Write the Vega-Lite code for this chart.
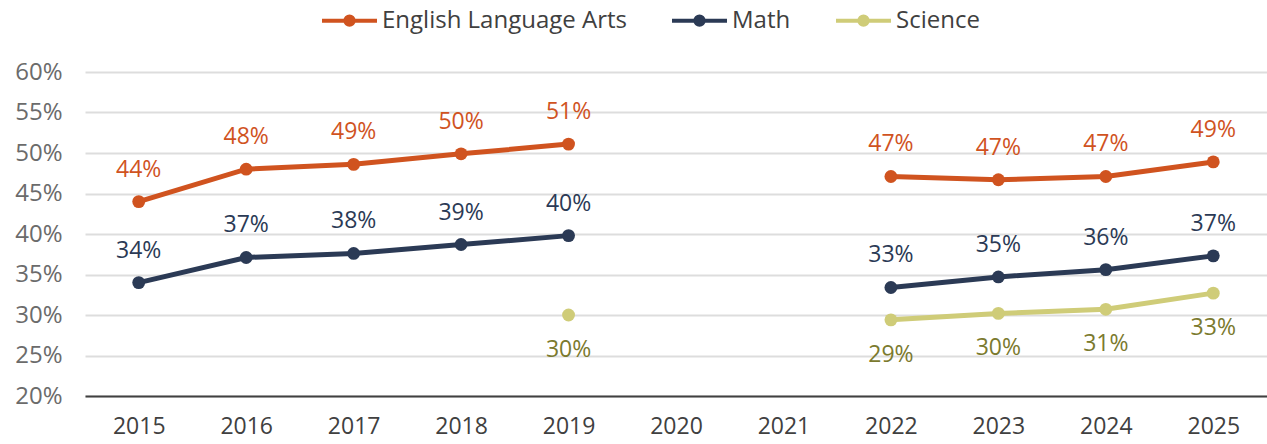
{
  "$schema": "https://vega.github.io/schema/vega-lite/v6.json",
  "autosize": "none",
  "width": 1182,
  "height": 324,
  "padding": {"left": 85, "top": 72, "right": 0, "bottom": 48},
  "background": "white",
  "config": {
    "view": {"stroke": null},
    "font": "Open Sans"
  },
  "data": {
    "values": [
      {"year": "2015", "subject": "English Language Arts", "v": 0.440},
      {"year": "2016", "subject": "English Language Arts", "v": 0.480},
      {"year": "2017", "subject": "English Language Arts", "v": 0.486},
      {"year": "2018", "subject": "English Language Arts", "v": 0.499},
      {"year": "2019", "subject": "English Language Arts", "v": 0.511},
      {"year": "2020", "subject": "English Language Arts", "v": null},
      {"year": "2021", "subject": "English Language Arts", "v": null},
      {"year": "2022", "subject": "English Language Arts", "v": 0.471},
      {"year": "2023", "subject": "English Language Arts", "v": 0.467},
      {"year": "2024", "subject": "English Language Arts", "v": 0.471},
      {"year": "2025", "subject": "English Language Arts", "v": 0.489},
      {"year": "2015", "subject": "Math", "v": 0.340},
      {"year": "2016", "subject": "Math", "v": 0.371},
      {"year": "2017", "subject": "Math", "v": 0.376},
      {"year": "2018", "subject": "Math", "v": 0.387},
      {"year": "2019", "subject": "Math", "v": 0.398},
      {"year": "2020", "subject": "Math", "v": null},
      {"year": "2021", "subject": "Math", "v": null},
      {"year": "2022", "subject": "Math", "v": 0.334},
      {"year": "2023", "subject": "Math", "v": 0.347},
      {"year": "2024", "subject": "Math", "v": 0.356},
      {"year": "2025", "subject": "Math", "v": 0.373},
      {"year": "2019", "subject": "Science", "v": 0.300},
      {"year": "2020", "subject": "Science", "v": null},
      {"year": "2021", "subject": "Science", "v": null},
      {"year": "2022", "subject": "Science", "v": 0.294},
      {"year": "2023", "subject": "Science", "v": 0.302},
      {"year": "2024", "subject": "Science", "v": 0.307},
      {"year": "2025", "subject": "Science", "v": 0.327}
    ]
  },
  "encoding": {
    "x": {
      "field": "year",
      "type": "ordinal",
      "sort": null,
      "scale": {"type": "point", "padding": 0.5, "domain": ["2015","2016","2017","2018","2019","2020","2021","2022","2023","2024","2025"]},
      "axis": {
        "title": null,
        "labelAngle": 0,
        "ticks": false,
        "grid": false,
        "domain": true,
        "domainColor": "#404040",
        "domainWidth": 2,
        "labelFontSize": 23,
        "labelColor": "#404040",
        "labelPadding": 19
      }
    },
    "y": {
      "field": "v",
      "type": "quantitative",
      "scale": {"domain": [0.2, 0.6], "nice": false, "zero": false},
      "axis": {
        "title": null,
        "values": [0.2, 0.25, 0.3, 0.35, 0.4, 0.45, 0.5, 0.55, 0.6],
        "format": ".0%",
        "domain": false,
        "ticks": false,
        "grid": true,
        "gridColor": "#dddddd",
        "gridWidth": 2,
        "labelFontSize": 24,
        "labelColor": "#6b6b6b",
        "labelPadding": 23
      }
    }
  },
  "layer": [
    {
      "mark": {"type": "line", "strokeWidth": 5},
      "encoding": {
        "color": {
          "field": "subject",
          "type": "nominal",
          "scale": {"domain": ["English Language Arts", "Math", "Science"], "range": ["#d0531f", "#2b3a55", "#cfcc78"]},
          "legend": {
            "title": null,
            "orient": "none",
            "direction": "horizontal",
            "legendX": 235,
            "legendY": -81,
            "symbolType": "M-1,0H1M-0.15,0A0.15,0.15,0,1,1,0.15,0A0.15,0.15,0,1,1,-0.15,0Z",
            "symbolSize": 3025,
            "symbolStrokeWidth": 4,
            "labelFontSize": 24,
            "labelLimit": 500,
            "labelColor": "#404040",
            "labelOffset": 3,
            "columnPadding": 37,
            "encode": {
              "symbols": {
                "update": {
                  "fill": {"scale": "color", "field": "value"},
                  "stroke": {"scale": "color", "field": "value"},
                  "fillOpacity": {"value": 1},
                  "opacity": {"value": 1}
                }
              }
            }
          }
        }
      }
    },
    {
      "transform": [{"filter": "datum.v != null"}],
      "mark": {"type": "point", "filled": true, "size": 165, "opacity": 1},
      "encoding": {
        "color": {"field": "subject", "type": "nominal", "legend": null}
      }
    },
    {
      "transform": [{"filter": "datum.v != null && datum.subject != 'Science'"}],
      "mark": {"type": "text", "dy": -32, "fontSize": 23},
      "encoding": {
        "text": {"field": "v", "type": "quantitative", "format": ".0%"},
        "color": {"field": "subject", "type": "nominal", "legend": null}
      }
    },
    {
      "transform": [{"filter": "datum.v != null && datum.subject == 'Science'"}],
      "mark": {"type": "text", "dy": 35, "fontSize": 23, "color": "#7b7a2e"},
      "encoding": {
        "text": {"field": "v", "type": "quantitative", "format": ".0%"}
      }
    }
  ]
}
